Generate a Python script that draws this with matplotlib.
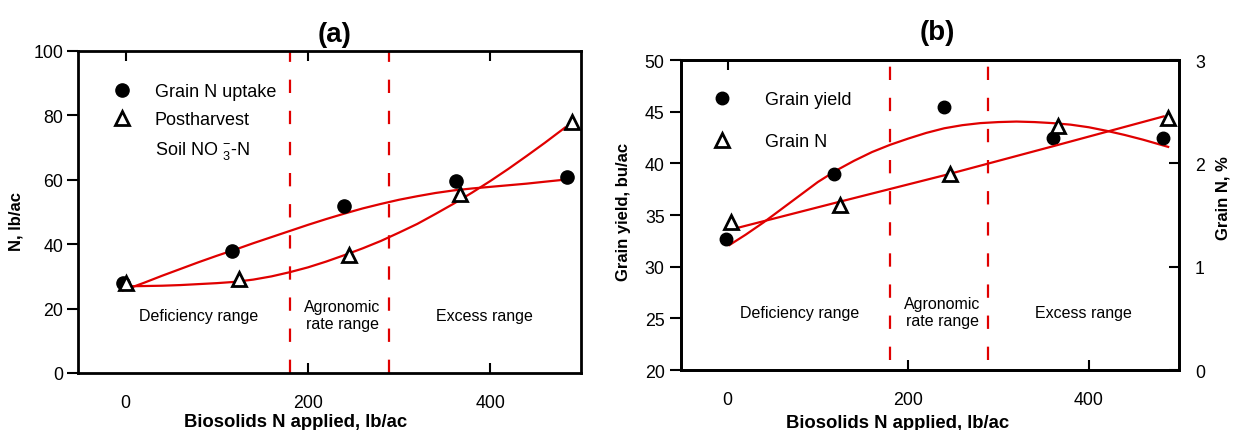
import numpy as np
import matplotlib
matplotlib.use("Agg")
import matplotlib.pyplot as plt

plt.rcParams['font.family'] = 'Liberation Sans'
plt.rcParams['mathtext.fontset'] = 'custom'
plt.rcParams['mathtext.rm'] = 'Liberation Sans'

# (a) grain N uptake and postharvest soil nitrate
rate_uptake = [-3, 117, 240, 362, 484]
grain_uptake = [28, 38, 52, 59.5, 61]
rate_soil = [0, 124, 245, 367, 490]
soil_no3 = [28.0, 29.2, 36.5, 55.7, 77.8]

# fitted curves
fit_x_a = [-3, 20, 40, 60, 80, 100, 120, 140, 160, 180, 200, 220, 240, 260, 280, 300,
           320, 340, 360, 380, 400, 420, 440, 460, 484]
fit_uptake = [25.6, 28.0, 30.2, 32.3, 34.4, 36.4, 38.3, 40.3, 42.2, 44.1, 46.0, 47.8,
              49.5, 51.1, 52.5, 53.8, 54.9, 55.9, 56.7, 57.3, 57.8, 58.3, 58.8, 59.4, 60.1]
fit_x_soil = [0, 20, 40, 60, 80, 100, 120, 140, 160, 180, 200, 220, 240, 260, 280, 300,
              320, 340, 360, 380, 400, 420, 440, 460, 482]
fit_soil = [26.9, 27.0, 27.1, 27.3, 27.6, 27.9, 28.3, 29.0, 30.0, 31.3, 32.8, 34.6,
            36.6, 38.7, 41.0, 43.6, 46.3, 49.4, 52.6, 56.0, 59.6, 63.4, 67.4, 71.5, 76.2]

# (b) grain yield (left axis) and grain N (right axis)
rate_yield = [-2, 118, 240, 361, 482]
grain_yield = [32.7, 39.0, 45.5, 42.5, 42.5]
rate_grainN = [4, 124, 246, 366, 488]
grain_n = [1.43, 1.60, 1.90, 2.36, 2.44]

fit_x_yield = [2, 20, 40, 60, 80, 100, 120, 140, 160, 180, 200, 220, 240, 260, 280, 300,
               320, 340, 360, 380, 400, 420, 440, 460, 488]
fit_yield = [32.1, 33.1, 34.3, 35.6, 36.9, 38.2, 39.3, 40.25, 41.1, 41.8, 42.4, 42.95,
             43.4, 43.7, 43.9, 44.0, 44.05, 44.0, 43.9, 43.75, 43.5, 43.15, 42.75, 42.3, 41.6]
fit_x_n = [6, 120, 240, 360, 483]
fit_n = [1.365, 1.62, 1.885, 2.165, 2.455]

range_bounds = [180, 289]
range_names = ["Deficiency range", "Agronomic\nrate range", "Excess range"]
range_x = [80, 238, 394]

RED = '#e00000'

fig = plt.figure(figsize=(12.33, 4.31), dpi=100)
ax = fig.add_axes([0.0635, 0.1323, 0.408, 0.7471])
axb = fig.add_axes([0.552, 0.139, 0.4042, 0.7193])


def frame(a):
    for s in a.spines.values():
        s.set_linewidth(2)


# ---------- panel (a)
for xb in range_bounds:
    ax.axvline(xb, color=RED, lw=1.6, dashes=(6, 8))
ax.plot(fit_x_a, fit_uptake, color=RED, lw=1.6, zorder=3)
ax.plot(fit_x_soil, fit_soil, color=RED, lw=1.6, zorder=3)
h1, = ax.plot(rate_uptake, grain_uptake, 'o', color='black', ms=9.5, zorder=4)
h2, = ax.plot(rate_soil, soil_no3, '^', mfc='white', mec='black', mew=2, ms=10, zorder=5)
h3, = ax.plot([], [], ' ')

ax.set_xlim(-52, 500)
ax.set_ylim(0, 100)
ax.set_xticks([0, 200, 400])
ax.set_yticks(range(0, 101, 20))
ax.tick_params(axis='x', direction='in', length=7, width=1.5, top=True, pad=15, labelsize=12.8)
ax.tick_params(axis='y', direction='out', length=8, width=1.5, pad=3, labelsize=12.8)
ax.xaxis.get_major_ticks()[0].tick1line.set_visible(False)
frame(ax)

ax.set_xlabel("Biosolids N applied, lb/ac", fontsize=13.3, fontweight='bold', va='center')
ax.xaxis.set_label_coords(0.431, -0.151)
ax.set_ylabel("N, lb/ac", fontsize=12, fontweight='bold', va='center')
ax.yaxis.set_label_coords(-0.124, 0.473)
ax.set_title("(a)", fontsize=20, fontweight='bold', x=0.51, pad=7)

ax.legend([h1, h2, h3], ["Grain N uptake", "Postharvest", r"Soil NO $\mathregular{_3^{-}}$-N"],
          loc='upper left', bbox_to_anchor=(0.069, 0.9), frameon=False, fontsize=13,
          handlelength=1.0, handletextpad=1.3, labelspacing=0.6, borderpad=0, borderaxespad=0)

for name, xt in zip(range_names, range_x):
    ax.text(xt, 18, name, ha='center', va='center', fontsize=11.5)

# ---------- panel (b)
axr = axb.twinx()
for xb in range_bounds:
    axb.axvline(xb, ymin=0.033, color=RED, lw=1.6, dashes=(6, 8))
axb.plot(fit_x_yield, fit_yield, color=RED, lw=1.6, zorder=3)
g1, = axb.plot(rate_yield, grain_yield, 'o', color='black', ms=9, zorder=4)
axr.plot(fit_x_n, fit_n, color=RED, lw=1.6, zorder=3)
g2, = axr.plot(rate_grainN, grain_n, '^', mfc='white', mec='black', mew=2, ms=10, zorder=5)

axb.set_xlim(-52, 500)
axb.set_ylim(20, 50)
axr.set_ylim(0, 3)
axb.set_xticks([0, 200, 400])
axb.set_yticks(range(20, 51, 5))
axr.set_yticks([0, 1, 2, 3])
axb.tick_params(axis='x', direction='in', length=7, width=1.5, top=True, pad=15, labelsize=12.8)
axb.tick_params(axis='y', direction='out', length=8, width=1.5, pad=3.5, labelsize=12.8)
axr.tick_params(axis='y', direction='in', length=7.5, width=1.5, pad=11.5, labelsize=12.8)
xt_b = axb.xaxis.get_major_ticks()
xt_b[0].tick1line.set_visible(False)
xt_b[1].tick2line.set_visible(False)
xt_b[2].tick2line.set_visible(False)
frame(axb)
frame(axr)

axb.set_xlabel("Biosolids N applied, lb/ac", fontsize=13.3, fontweight='bold', va='center')
axb.xaxis.set_label_coords(0.436, -0.169)
axb.set_ylabel("Grain yield, bu/ac", fontsize=12, fontweight='bold', va='center')
axb.yaxis.set_label_coords(-0.115, 0.514)
axr.set_ylabel("Grain N, %", fontsize=12, fontweight='bold', va='center')
axr.yaxis.set_label_coords(1.088, 0.558)
axb.set_title("(b)", fontsize=20, fontweight='bold', x=0.515, pad=15)

axr.legend([g1, g2], ["Grain yield", "Grain N"], loc='upper left',
           bbox_to_anchor=(0.064, 0.9), frameon=False, fontsize=13,
           handlelength=1.0, handletextpad=1.9, labelspacing=1.4, borderpad=0, borderaxespad=0)

for name, xt in zip(range_names, range_x):
    axb.text(xt, 25.6, name, ha='center', va='center', fontsize=11.5)

fig.savefig("out.png", dpi=100)
